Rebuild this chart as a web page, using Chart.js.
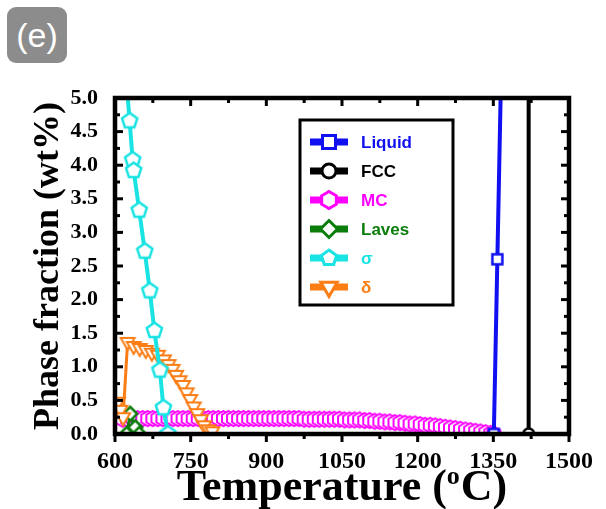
<!DOCTYPE html>
<html>
<head>
<meta charset="utf-8">
<script src="https://cdn.jsdelivr.net/npm/chart.js@4.4.0/dist/chart.umd.min.js"></script>
<style>
html,body{margin:0;padding:0;background:#fff;}
#wrap{position:relative;width:606px;height:509px;}
#badge{position:absolute;left:7px;top:7px;width:60px;height:56px;background:#8c8c8c;border-radius:9px;
  color:#fff;font:34px "Liberation Sans",Arial,sans-serif;line-height:56px;text-align:center;}
</style>
</head>
<body>
<div id="wrap">
  <canvas id="chart" width="606" height="509"></canvas>
  <div id="badge">(e)</div>
</div>
<script>
// ================= Data =================
const xTicks = [600, 750, 900, 1050, 1200, 1350, 1500];
const yTicks = [0, 0.5, 1, 1.5, 2, 2.5, 3, 3.5, 4, 4.5, 5];

const liquidT = [1351, 1358, 1366];
const liquidV = [0.0, 2.6, 5.6];

const fccT = [1420, 1420];
const fccV = [0.0, 60];

const mcT = [615,625,635,645,655,665,675,685,695,705,715,725,735,745,755,765,775,785,795,805,
  815,825,835,845,855,865,875,885,895,905,915,925,935,945,955,965,975,985,995,1005,
  1015,1025,1035,1045,1055,1065,1075,1085,1095,1105,1115,1125,1135,1145,1155,1165,1175,1185,1195,1205,
  1215,1225,1235,1245,1255,1265,1275,1285,1295,1305,1315,1325,1335,1345,1351];
const mcV = [0.22,0.22,0.23,0.23,0.23,0.23,0.23,0.23,0.23,0.23,0.23,0.23,0.23,0.23,0.23,0.23,0.23,0.23,0.23,0.23,
  0.23,0.23,0.23,0.23,0.23,0.23,0.23,0.23,0.23,0.23,0.23,0.23,0.23,0.23,0.23,0.23,0.22,0.22,0.22,0.22,
  0.22,0.22,0.22,0.22,0.21,0.21,0.21,0.21,0.20,0.20,0.19,0.19,0.18,0.18,0.17,0.17,0.16,0.15,0.15,0.14,
  0.13,0.13,0.12,0.11,0.10,0.09,0.08,0.07,0.06,0.05,0.04,0.03,0.02,0.01,0.0];

const lavesT = [623, 630, 640, 648];
const lavesV = [0.0, 0.30, 0.10, 0.0];

const sigmaT = [620, 629, 635, 637, 648, 659, 669, 678, 689, 696, 705];
const sigmaV = [5.5, 4.66, 4.08, 3.92, 3.33, 2.72, 2.13, 1.54, 0.95, 0.39, 0.0];

const deltaT = [606,611,616,625,637,649,661,673,685,697,706,714,721,728,735,742,749,756,763,770,777,785,793];
const deltaV = [0.48,0.36,0.25,1.37,1.31,1.28,1.25,1.21,1.18,1.11,1.04,0.97,0.88,0.80,0.73,0.62,0.52,0.41,
  0.31,0.22,0.13,0.07,0.04];

const names  = ['Liquid', 'FCC', 'MC', 'Laves', '\u03c3', '\u03b4'];
const colors = ['#1010f0', '#000000', '#ff00ff', '#0b7d0b', '#19e3e3', '#fb7d14'];
const shapes = ['square', 'circle', 'hexagon', 'diamond', 'pentagon', 'tridown'];

// ================= Markers =================
function drawShape(g, shape, x, y, r, color, lw){
  g.beginPath();
  if(shape==='square') g.rect(x-r, y-r, 2*r, 2*r);
  else if(shape==='circle') g.arc(x, y, r, 0, Math.PI*2);
  else {
    const n = {diamond:4, hexagon:6, pentagon:5, tridown:3}[shape];
    const a0 = shape==='tridown' ? Math.PI/2 : -Math.PI/2;
    for(let i=0;i<n;i++){
      const a = a0 + i*2*Math.PI/n;
      const px = x + r*Math.cos(a), py = y + r*Math.sin(a);
      i ? g.lineTo(px, py) : g.moveTo(px, py);
    }
    g.closePath();
  }
  g.fillStyle = '#fff'; g.fill();
  g.lineWidth = lw; g.strokeStyle = color; g.lineJoin = 'miter'; g.stroke();
}
function marker(shape, r, color, lw){
  const s = Math.ceil(2*r + lw + 4);
  const c = document.createElement('canvas'); c.width = s; c.height = s;
  drawShape(c.getContext('2d'), shape, s/2, s/2, r, color, lw);
  return c;
}
const pts = arr => arr[0].map((t,i)=>({x:t, y:arr[1][i]}));

// ================= Frame, ticks, titles, legend =================
const decor = {
  id:'decor',
  afterDraw(chart){
    const {ctx, chartArea:a, scales:{x, y}} = chart;
    ctx.save();
    ctx.strokeStyle = '#000';
    ctx.lineWidth = 3;
    const xs = xTicks.slice(0,-1).map(v=>v+75), ys = yTicks.slice(0,-1).map(v=>v+0.25);
    const vline = (px, y1, y2)=>{ ctx.beginPath(); ctx.moveTo(px,y1); ctx.lineTo(px,y2); ctx.stroke(); };
    const hline = (py, x1, x2)=>{ ctx.beginPath(); ctx.moveTo(x1,py); ctx.lineTo(x2,py); ctx.stroke(); };
    xTicks.forEach(v=>{ const p=x.getPixelForValue(v); vline(p,a.bottom,a.bottom+8); vline(p,a.top,a.top+8); });
    xs.forEach(v=>{ const p=x.getPixelForValue(v); vline(p,a.bottom,a.bottom+5); vline(p,a.top,a.top+5); });
    yTicks.forEach(v=>{ const p=y.getPixelForValue(v); hline(p,a.left,a.left+8); hline(p,a.right,a.right-8); });
    ys.forEach(v=>{ const p=y.getPixelForValue(v); hline(p,a.left,a.left+5); hline(p,a.right,a.right-5); });
    ctx.lineWidth = 4.5;
    ctx.strokeRect(a.left, a.top, a.right-a.left, a.bottom-a.top);

    // axis titles
    ctx.fillStyle = '#000';
    ctx.textBaseline = 'alphabetic';
    const big = 'bold 44px "Liberation Serif", "Times New Roman", serif';
    const sup = 'bold 26px "Liberation Serif", "Times New Roman", serif';
    ctx.font = big; const w1 = ctx.measureText('Temperature (').width, w3 = ctx.measureText('C)').width;
    ctx.font = sup; const w2 = ctx.measureText('o').width + 1;
    let sx = (a.left+a.right)/2 - (w1+w2+w3)/2;
    ctx.textAlign = 'left';
    ctx.font = big; ctx.fillText('Temperature (', sx, 500);
    ctx.font = sup; ctx.fillText('o', sx+w1, 484);
    ctx.font = big; ctx.fillText('C)', sx+w1+w2, 500);

    ctx.save();
    ctx.translate(58, (a.top+a.bottom)/2);
    ctx.rotate(-Math.PI/2);
    ctx.textAlign = 'center';
    ctx.font = 'bold 36px "Liberation Serif", "Times New Roman", serif';
    ctx.fillText('Phase fraction (wt%)', 0, 0);
    ctx.restore();

    // legend
    ctx.lineWidth = 3;
    ctx.strokeRect(300, 120, 153, 185);
    const lr = [6.5, 7, 8.5, 8.5, 8, 9.5];
    names.forEach((n,i)=>{
      const ly = 142 + i*29;
      ctx.strokeStyle = colors[i]; ctx.lineWidth = 7;
      ctx.beginPath(); ctx.moveTo(310, ly); ctx.lineTo(348, ly); ctx.stroke();
      drawShape(ctx, shapes[i], 329, ly, lr[i], colors[i], 3);
      ctx.fillStyle = colors[i];
      ctx.font = 'bold 17px "Liberation Sans", Arial, sans-serif';
      ctx.textAlign = 'left'; ctx.textBaseline = 'middle';
      ctx.fillText(n, 361, ly+1);
    });
    ctx.restore();
  }
};

// ================= Chart =================
const series = [
  {d:[liquidT, liquidV], lw:4,   r:5,   mlw:2.5, order:0},
  {d:[fccT, fccV],       lw:4,   r:5.5, mlw:2.5, order:0},
  {d:[mcT, mcV],         lw:2,   r:7.5, mlw:2,   order:4},
  {d:[lavesT, lavesV],   lw:2.5, r:7,   mlw:2.5, order:3},
  {d:[sigmaT, sigmaV],   lw:4,   r:8,   mlw:2.5, order:1},
  {d:[deltaT, deltaV],   lw:3,   r:8,   mlw:2,   order:2}
];
const tickFont = {family:'"Liberation Serif", "Times New Roman", serif', weight:'bold'};

new Chart(document.getElementById('chart').getContext('2d'), {
  type:'line',
  data:{ datasets: series.map((s,i)=>({
    label:names[i], data:pts(s.d), borderColor:colors[i], backgroundColor:colors[i],
    borderWidth:s.lw, tension:0, order:s.order,
    pointStyle:marker(shapes[i], s.r, colors[i], s.mlw), pointRadius:s.r
  }))},
  options:{
    responsive:false, animation:false,
    layout:{padding:{top:98, right:34, left:0, bottom:0}},
    plugins:{legend:{display:false}, tooltip:{enabled:false}},
    scales:{
      x:{type:'linear', min:600, max:1500,
        afterFit:s=>{ s.height = 75; },
        afterBuildTicks:s=>{ s.ticks = xTicks.map(v=>({value:v})); },
        ticks:{padding:13, color:'#000', font:{...tickFont, size:24}, callback:v=>String(v)},
        grid:{display:false, drawTicks:false}, border:{display:false}},
      y:{type:'linear', min:0, max:5,
        afterFit:s=>{ s.width = 115; },
        afterBuildTicks:s=>{ s.ticks = yTicks.map(v=>({value:v})); },
        ticks:{padding:17, color:'#000', font:{...tickFont, size:22}, callback:v=>v.toFixed(1)},
        grid:{display:false, drawTicks:false}, border:{display:false}}
    }
  },
  plugins:[decor]
});
</script>
</body>
</html>
